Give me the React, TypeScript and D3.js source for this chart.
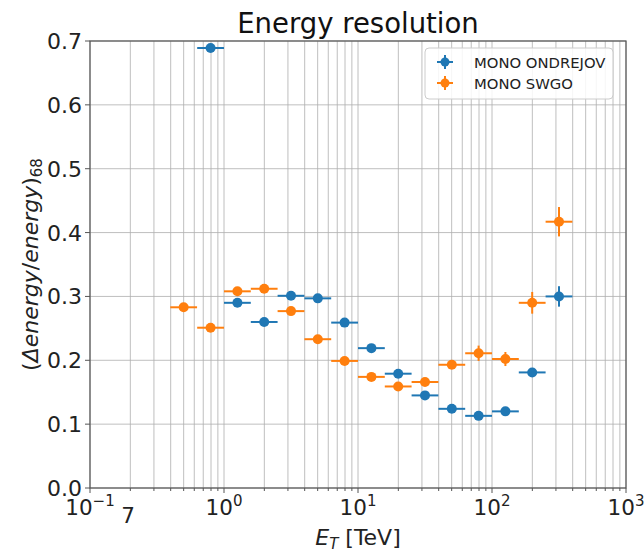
import React from "react";
import * as d3 from "d3";

const energies = [0.5, 0.794, 1.259, 1.995, 3.162, 5.012, 7.943, 12.59, 19.95, 31.62, 50.12, 79.43, 125.9, 199.5, 316.2];
const ondrejovX = [0.794, 1.259, 1.995, 3.162, 5.012, 7.943, 12.59, 19.95, 31.62, 50.12, 79.43, 125.9, 199.5, 316.2];
const ondrejovY = [0.689, 0.290, 0.260, 0.301, 0.297, 0.259, 0.219, 0.179, 0.145, 0.124, 0.113, 0.120, 0.181, 0.300];
const ondrejovErr = [0.005, 0.003, 0.003, 0.003, 0.003, 0.003, 0.003, 0.003, 0.003, 0.003, 0.003, 0.004, 0.005, 0.016];
const swgoX = energies;
const swgoY = [0.283, 0.251, 0.308, 0.312, 0.277, 0.233, 0.199, 0.174, 0.159, 0.166, 0.193, 0.211, 0.202, 0.290, 0.417];
const swgoErr = [0.003, 0.003, 0.003, 0.003, 0.003, 0.003, 0.003, 0.003, 0.003, 0.003, 0.004, 0.012, 0.011, 0.017, 0.023];
const yTicks = [0, 0.1, 0.2, 0.3, 0.4, 0.5, 0.6, 0.7];
const xDecades = [-1, 0, 1, 2, 3];
const binHalfWidth = 0.1; // decades

const W = 644, H = 553;
const L = 90, R = 626, T = 41, B = 488;
const blue = "#1f77b4", orange = "#ff7f0e";
const font = "DejaVu Sans, sans-serif";

export default function App() {
  const x = d3.scaleLog().domain([0.1, 1000]).range([L, R]);
  const y = d3.scaleLinear().domain([0, 0.7]).range([B, T]);
  const minor: number[] = [];
  for (let d = -1; d < 3; d++) for (let k = 1; k < 10; k++) minor.push(k * Math.pow(10, d));
  minor.push(1000);

  const series = [
    { xs: ondrejovX, ys: ondrejovY, es: ondrejovErr, color: blue },
    { xs: swgoX, ys: swgoY, es: swgoErr, color: orange },
  ];

  return (
    <svg width={W} height={H} style={{ position: "absolute", left: 0, top: 0, background: "#fff" }} fontFamily={font}>
      <rect x={0} y={0} width={W} height={H} fill="#fff" />
      {/* grid */}
      {minor.map((v, i) => (
        <line key={"gx" + i} x1={x(v)} x2={x(v)} y1={T} y2={B} stroke="#b0b0b0" strokeWidth={1} opacity={0.8} />
      ))}
      {yTicks.map((v, i) => (
        <line key={"gy" + i} x1={L} x2={R} y1={y(v)} y2={y(v)} stroke="#b0b0b0" strokeWidth={1} opacity={0.8} />
      ))}
      {/* ticks */}
      {minor.map((v, i) => {
        const major = Math.abs(Math.log10(v) - Math.round(Math.log10(v))) < 1e-9;
        return <line key={"tx" + i} x1={x(v)} x2={x(v)} y1={B} y2={B + (major ? 5 : 3)} stroke="#555" strokeWidth={1} />;
      })}
      {yTicks.map((v, i) => (
        <line key={"ty" + i} x1={L - 5} x2={L} y1={y(v)} y2={y(v)} stroke="#555" strokeWidth={1} />
      ))}
      {/* series */}
      {series.map((s, si) => (
        <g key={"s" + si}>
          {s.xs.map((xv, i) => {
            const lx = Math.log10(xv);
            const cx = x(xv), cy = y(s.ys[i]);
            return (
              <g key={i}>
                <line x1={x(Math.pow(10, lx - binHalfWidth))} x2={x(Math.pow(10, lx + binHalfWidth))} y1={cy} y2={cy} stroke={s.color} strokeWidth={2} />
                <line x1={cx} x2={cx} y1={y(s.ys[i] - s.es[i])} y2={y(s.ys[i] + s.es[i])} stroke={s.color} strokeWidth={2} />
                <circle cx={cx} cy={cy} r={5} fill={s.color} />
              </g>
            );
          })}
        </g>
      ))}
      {/* frame */}
      <rect x={L} y={T} width={R - L} height={B - T} fill="none" stroke="#555" strokeWidth={1.2} />
      {/* y tick labels */}
      {yTicks.map((v, i) => (
        <text key={"yl" + i} x={L - 8} y={y(v) + 8} textAnchor="end" fontSize={22} fill="#222">{v.toFixed(1)}</text>
      ))}
      {/* x tick labels */}
      {xDecades.map((d, i) => (
        <text key={"xl" + i} x={x(Math.pow(10, d))} y={515} textAnchor="middle" fontSize={21.5} fill="#222">
          10<tspan dy={-9} fontSize={15}>{d === -1 ? "\u22121" : d}</tspan>
        </text>
      ))}
      <text x={128} y={523} textAnchor="middle" fontSize={21.5} fill="#222">7</text>
      {/* axis labels */}
      <text x={(L + R) / 2} y={545} textAnchor="middle" fontSize={22} fill="#222">
        <tspan fontStyle="italic">E</tspan><tspan fontStyle="italic" fontSize={15} dy={4}>T</tspan><tspan dy={-4}> [TeV]</tspan>
      </text>
      <text transform={`translate(38, ${(T + B) / 2}) rotate(-90)`} textAnchor="middle" fontSize={22} fill="#222">
        (<tspan fontStyle="italic">Δenergy</tspan>/<tspan fontStyle="italic">energy</tspan>)<tspan fontSize={15} dy={4}>68</tspan>
      </text>
      {/* title */}
      <text x={(L + R) / 2} y={33} textAnchor="middle" fontSize={27.5} fill="#111">Energy resolution</text>
      {/* legend */}
      <g>
        <rect x={425} y={48} width={188} height={51} rx={4} fill="#fff" fillOpacity={0.85} stroke="#ccc" strokeWidth={1} />
        {[{ label: "MONO ONDREJOV", color: blue }, { label: "MONO SWGO", color: orange }].map((e, i) => {
          const cy = 62 + i * 21;
          return (
            <g key={"lg" + i}>
              <line x1={437} x2={453} y1={cy} y2={cy} stroke={e.color} strokeWidth={2} />
              <line x1={445} x2={445} y1={cy - 7} y2={cy + 7} stroke={e.color} strokeWidth={2} />
              <circle cx={445} cy={cy} r={4.5} fill={e.color} />
              <text x={474} y={cy + 5.5} fontSize={14.8} fill="#222">{e.label}</text>
            </g>
          );
        })}
      </g>
    </svg>
  );
}
